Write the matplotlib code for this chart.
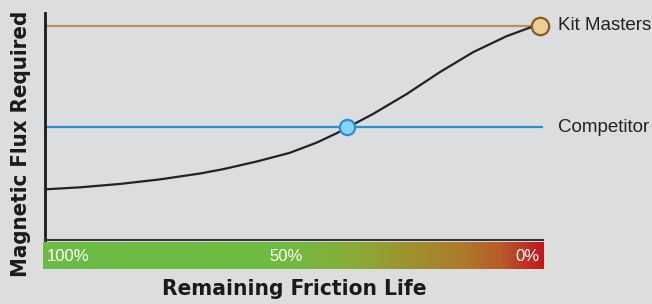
import numpy as np
import matplotlib
matplotlib.use('Agg')
import matplotlib.pyplot as plt
from matplotlib.colors import LinearSegmentedColormap

# remaining friction life (%) vs magnetic flux required (arbitrary units, 0-100)
life = [100, 93, 84.9, 76.9, 68.8, 64.2, 57.4, 50.8, 45.4, 41.4, 39.2, 37.7,
        34.0, 27.3, 20.6, 13.9, 7.2, 2.5, 0.6]
flux = [22.3, 23.2, 24.7, 26.7, 29.3, 31.2, 34.6, 38.4, 42.9, 47.0, 49.6, 51.3,
        55.6, 64.3, 74.0, 82.8, 89.8, 93.6, 94.4]

kit_level = 94.4
kit_life = 0.6
competitor_level = 49.6
competitor_life = 39.2

series_names = ['Kit Masters', 'Competitor']
bar_labels = ['100%', '50%', '0%']

bg = '#dcdddf'
W, H = 652, 304

fig = plt.figure(figsize=(W / 100, H / 100), dpi=100, facecolor=bg)

def box(x0, y0, x1, y1):
    # pixel box (top-left origin) -> figure fraction
    return [x0 / W, 1 - y1 / H, (x1 - x0) / W, (y1 - y0) / H]

ax = fig.add_axes(box(45, 13, 542.5, 240))
ax.set_facecolor(bg)
ax.set_xlim(100, 0)
ax.set_ylim(0, 100)

ax.plot([100, kit_life], [kit_level, kit_level], color='#b8935a', lw=1.6, solid_capstyle='butt', zorder=2)
ax.plot([100, -0.1], [competitor_level, competitor_level], color='#2b8fd4', lw=1.6, solid_capstyle='butt', zorder=2)
ax.plot(life, flux, color='#222222', lw=1.6, zorder=3, solid_joinstyle='round')
ax.plot([kit_life], [kit_level], 'o', ms=12.5, mfc='#e9d096', mec='#8b5a1c', mew=1.6, zorder=4, clip_on=False)
ax.plot([competitor_life], [competitor_level], 'o', ms=11, mfc='#86d3f6', mec='#2a8fd2', mew=1.6, zorder=4, clip_on=False)

ax.text(-3.1, kit_level, series_names[0], ha='left', va='center', fontsize=13.5,
        family='Liberation Sans', color='#222222', clip_on=False)
ax.text(-3.1, competitor_level, series_names[1], ha='left', va='center', fontsize=13.5,
        family='Liberation Sans', color='#222222', clip_on=False)

ax.set_xticks([])
ax.set_yticks([])
for s in ['top', 'right']:
    ax.spines[s].set_visible(False)
ax.spines['left'].set_color('#1a1a1a')
ax.spines['left'].set_linewidth(2)
ax.spines['bottom'].set_color('#333333')
ax.spines['bottom'].set_linewidth(1.5)

# gradient bar under the axis
bar = fig.add_axes(box(42.7, 242, 542.7, 269))
cmap = LinearSegmentedColormap.from_list('life', [
    (0.0, '#6cbb45'), (0.48, '#70bb42'), (0.62, '#8aab38'), (0.73, '#9d9231'),
    (0.84, '#ad7a2b'), (0.92, '#b9582a'), (1.0, '#c2171d')])
bar.imshow(np.linspace(0, 1, 500).reshape(1, -1), aspect='auto', cmap=cmap,
           extent=[100, 0, 0, 1])
bar.set_xlim(100, 0)
bar.set_ylim(0, 1)
bar.axis('off')
bar.text(99.2, 0.45, bar_labels[0], ha='left', va='center', color='white', fontsize=12, family='Liberation Sans')
bar.text(51.3, 0.45, bar_labels[1], ha='center', va='center', color='white', fontsize=12, family='Liberation Sans')
bar.text(0.6, 0.45, bar_labels[2], ha='right', va='center', color='white', fontsize=12, family='Liberation Sans')

fig.text(294 / W, 1 - 289 / H, 'Remaining Friction Life', ha='center', va='center',
         fontsize=16.2, fontweight='bold', family='DejaVu Sans', stretch='condensed', color='#1a1a1a')
fig.text(21 / W, 1 - 143.5 / H, 'Magnetic Flux Required', ha='center', va='center', rotation=90,
         fontsize=15.9, fontweight='bold', family='DejaVu Sans', stretch='condensed', color='#1a1a1a')

fig.savefig('out.png', dpi=100, facecolor=bg)
